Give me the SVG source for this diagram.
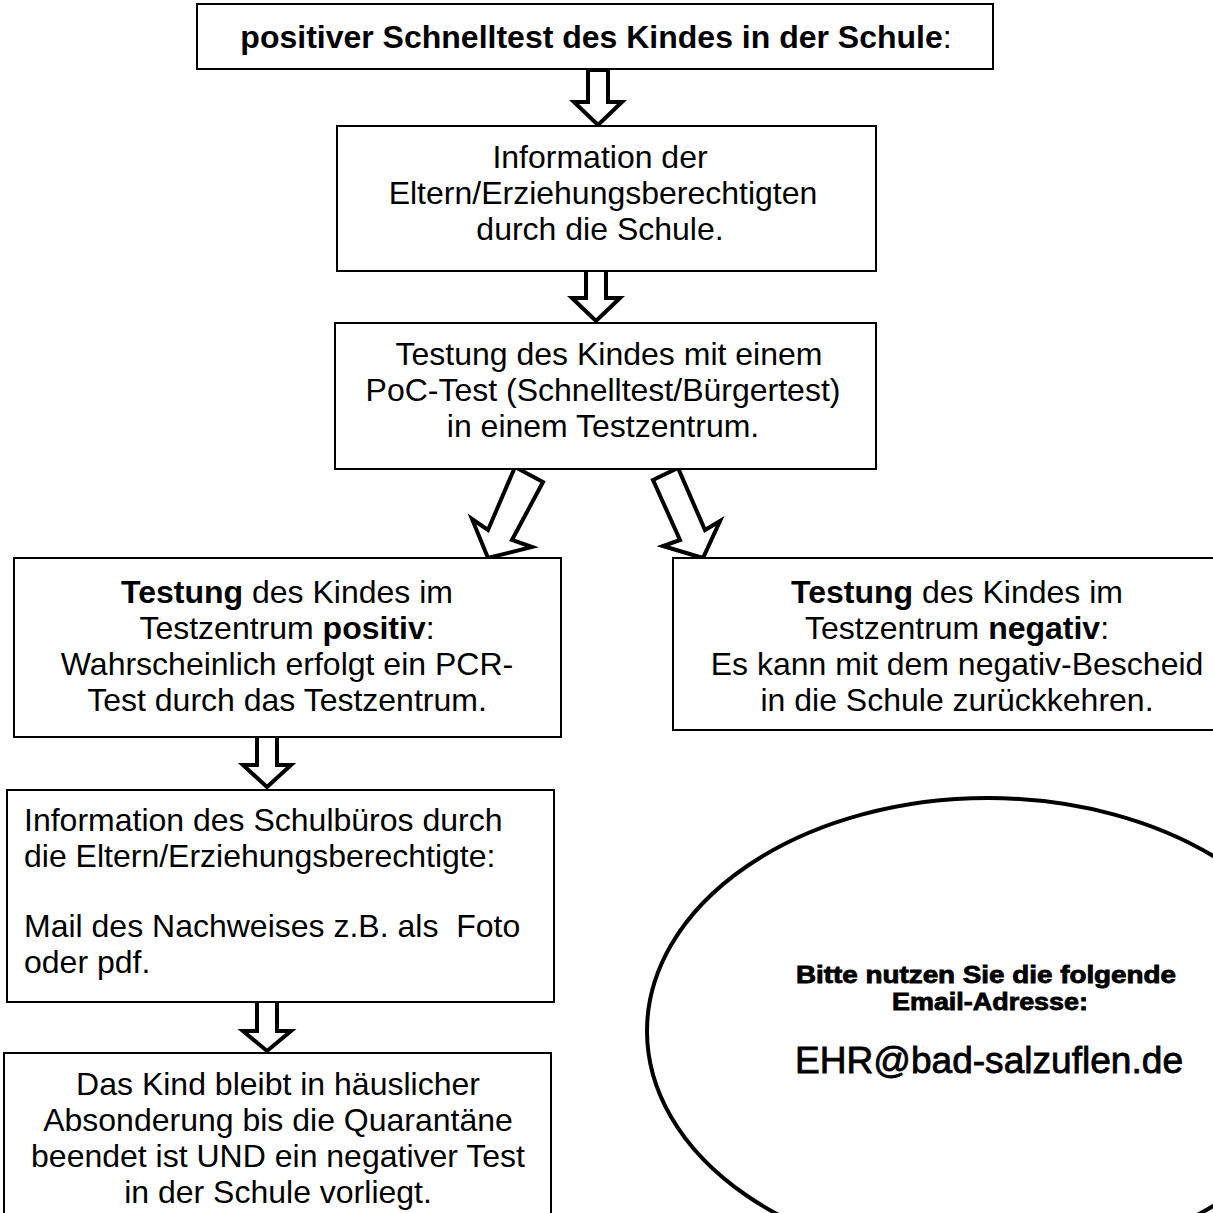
<svg xmlns="http://www.w3.org/2000/svg" width="1213" height="1213" viewBox="0 0 1213 1213">
<style>
.box{fill:#fff;stroke:#000;stroke-width:2}
.arr{fill:#fff;stroke:#000;stroke-width:4;stroke-linejoin:miter}
.t{font-family:"Liberation Sans",Arial,sans-serif;font-size:32px;fill:#000}
.c{text-anchor:middle}
.b{font-weight:bold}
.em{font-family:"Liberation Sans",Arial,sans-serif;font-weight:bold;fill:#000;stroke:#000;stroke-width:0.8;text-anchor:middle}
</style>
<rect width="1213" height="1213" fill="#fff"/>
<g id="connectors">
<path class="arr" d="M588,70 L608,70 L608,102 L622,102 L598,125 L574,102 L588,102 Z"/>
<path class="arr" d="M586,268 L606,268 L606,298 L620,298 L596,321 L572,298 L586,298 Z"/>
<path class="arr" d="M515,467 L543,482 L512,540 L532,547 L488,558 L472,519 L488,530 Z"/>
<path class="arr" d="M653,480 L678,468 L705,530 L720,521 L703,558 L663,546 L680,540 Z"/>
<path class="arr" d="M257,733 L277,733 L277,765 L291,765 L267,787 L243,765 L257,765 Z"/>
<path class="arr" d="M257,1000 L277,1000 L277,1031 L291,1031 L267,1051 L243,1031 L257,1031 Z"/>
</g>
<g id="n1">
<rect class="box" x="197" y="4" width="796" height="65"/>
<text class="t c" x="596" y="48"><tspan class="b">positiver Schnelltest des Kindes in der Schule</tspan>:</text>
</g>
<g id="n2">
<rect class="box" x="337" y="126" width="539" height="145"/>
<text class="t c" x="600" y="168">Information der</text>
<text class="t c" x="603" y="204">Eltern/Erziehungsberechtigten</text>
<text class="t c" x="600" y="240">durch die Schule.</text>
</g>
<g id="n3">
<rect class="box" x="335" y="323" width="541" height="146"/>
<text class="t c" x="609" y="365">Testung des Kindes mit einem</text>
<text class="t c" x="603" y="401">PoC-Test (Schnelltest/Bürgertest)</text>
<text class="t c" x="603" y="437">in einem Testzentrum.</text>
</g>
<g id="n4">
<rect class="box" x="14" y="558" width="547" height="179"/>
<text class="t c" x="287" y="603"><tspan class="b">Testung</tspan> des Kindes im</text>
<text class="t c" x="287" y="639">Testzentrum <tspan class="b">positiv</tspan>:</text>
<text class="t c" x="287" y="675">Wahrscheinlich erfolgt ein PCR-</text>
<text class="t c" x="287" y="711">Test durch das Testzentrum.</text>
</g>
<g id="n5">
<rect class="box" x="673" y="558" width="600" height="172"/>
<text class="t c" x="957" y="603"><tspan class="b">Testung</tspan> des Kindes im</text>
<text class="t c" x="957" y="639">Testzentrum <tspan class="b">negativ</tspan>:</text>
<text class="t c" x="957" y="675">Es kann mit dem negativ-Bescheid</text>
<text class="t c" x="957" y="711">in die Schule zurückkehren.</text>
</g>
<g id="n6">
<rect class="box" x="7" y="790" width="547" height="212"/>
<text class="t" x="24" y="831">Information des Schulbüros durch</text>
<text class="t" x="24" y="867">die Eltern/Erziehungsberechtigte:</text>
<text class="t" x="24" y="937" xml:space="preserve">Mail des Nachweises z.B. als  Foto</text>
<text class="t" x="24" y="973">oder pdf.</text>
</g>
<g id="n7">
<rect class="box" x="4" y="1053" width="547" height="200"/>
<text class="t c" x="278" y="1095">Das Kind bleibt in häuslicher</text>
<text class="t c" x="278" y="1131">Absonderung bis die Quarantäne</text>
<text class="t c" x="278" y="1167">beendet ist UND ein negativer Test</text>
<text class="t c" x="278" y="1203">in der Schule vorliegt.</text>
</g>
<g id="n8">
<ellipse cx="988" cy="1031" rx="341" ry="233" fill="none" stroke="#000" stroke-width="4"/>
<text class="em" x="986" y="983" font-size="23" textLength="380" lengthAdjust="spacingAndGlyphs">Bitte nutzen Sie die folgende</text>
<text class="em" x="990" y="1010" font-size="23" textLength="196" lengthAdjust="spacingAndGlyphs">Email-Adresse:</text>
<text class="em" x="989" y="1073" font-size="37" textLength="388" lengthAdjust="spacingAndGlyphs" style="font-weight:normal">EHR@bad-salzuflen.de</text>
</g>
</svg>
